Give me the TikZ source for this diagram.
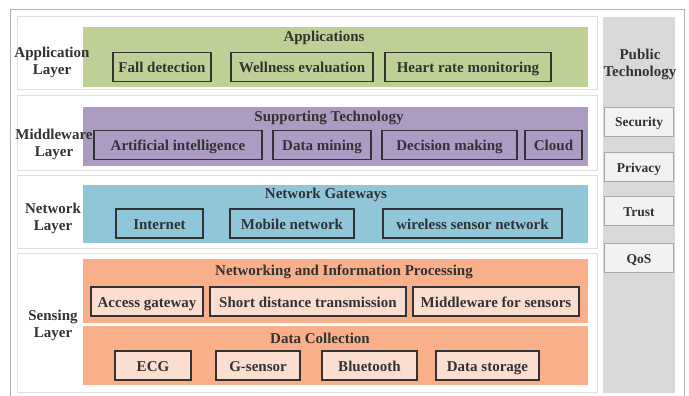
\documentclass[tikz,border=0pt]{standalone}
\usepackage{fontspec}
\setmainfont{Liberation Serif}
\usetikzlibrary{positioning}
\definecolor{appcolor}{RGB}{190,208,150}
\definecolor{midcolor}{RGB}{172,155,195}
\definecolor{netcolor}{RGB}{145,198,216}
\definecolor{sencolor}{RGB}{249,175,138}
\definecolor{senlight}{RGB}{252,222,208}
\definecolor{pubcolor}{RGB}{217,217,217}
\definecolor{pubfill}{RGB}{242,242,242}
\definecolor{txtcolor}{RGB}{50,50,50}

\begin{document}
\begin{tikzpicture}[x=1pt, y=-1pt,
    every node/.style={font=\fontsize{15}{17}\selectfont\bfseries, text=txtcolor},
    panel/.style={draw=gray!25, line width=1pt, fill=white, minimum width=580pt, inner sep=0pt},
    band/.style={minimum width=505pt, inner sep=0pt},
    item/.style={draw=black!80, line width=1.2pt, minimum height=29pt, inner sep=0pt,
        text height=11pt, text depth=0pt},
    pubitem/.style={draw=gray!70, fill=pubfill, line width=1pt, minimum width=69pt, minimum height=29pt,
        inner sep=0pt, text height=10pt, text depth=0pt, font=\fontsize{13.5}{15}\selectfont\bfseries},
    lbl/.style={align=center},
]
    \useasboundingbox (0,0) rectangle (689,396);
    % outer frame
    \draw[gray!60, line width=1pt] (10,400) -- (10,10) -- (684,10) -- (684,400);

    % layer panels
    \node[panel, minimum height=73pt] (appPanel) at (307,53.5) {};
    \node[panel, minimum height=74pt] (midPanel) at (307,133) {};
    \node[panel, minimum height=73pt] (netPanel) at (307,211.5) {};
    \node[panel, minimum height=139pt] (senPanel) at (307,322.5) {};

    % public technology column
    \node[fill=pubcolor, minimum width=72pt, minimum height=376pt, inner sep=0pt] (pubCol) at (639,205) {};
    \node[lbl] (pubTitle) at (640,64) {Public\\Technology};
    \node[pubitem] (security) at (639,122) {Security};
    \node[pubitem, below=15pt of security] (privacy) {Privacy};
    \node[pubitem, below=14pt of privacy] (trust) {Trust};
    \node[pubitem, below=17pt of trust] (qos) {QoS};

    % application layer
    \node[band, fill=appcolor, minimum height=60pt] (appBand) at (335.5,57) {};
    \node (appTitle) at (324,38) {Applications};
    \node[item, minimum width=98pt] (fall) at (162,67) {Fall detection};
    \node[item, minimum width=142pt] (wellness) at (302,67) {Wellness evaluation};
    \node[item, minimum width=166pt] (heart) at (468,67) {Heart rate monitoring};
    \node[lbl] (appLbl) at (52,62) {Application\\Layer};

    % middleware layer
    \node[band, fill=midcolor, minimum height=59pt] (midBand) at (335.5,136.5) {};
    \node (midTitle) at (329,118) {Supporting Technology};
    \node[item, minimum width=168pt] (ai) at (178,145) {Artificial intelligence};
    \node[item, minimum width=98pt] (mining) at (322,145) {Data mining};
    \node[item, minimum width=135pt] (decision) at (449.5,145) {Decision making};
    \node[item, minimum width=57pt] (cloud) at (553.5,145) {Cloud};
    \node[lbl] (midLbl) at (54,144) {Middleware\\Layer};

    % network layer
    \node[band, fill=netcolor, minimum height=58pt] (netBand) at (335.5,214) {};
    \node (netTitle) at (326,195) {Network Gateways};
    \node[item, minimum width=87pt] (internet) at (159.5,223.5) {Internet};
    \node[item, minimum width=124pt] (mobile) at (292,223.5) {Mobile network};
    \node[item, minimum width=179pt] (wsn) at (472.5,223.5) {wireless sensor network};
    \node[lbl] (netLbl) at (53,218) {Network\\Layer};

    % sensing layer
    \node[band, fill=sencolor, minimum height=64pt] (procBand) at (335.5,291) {};
    \node (procTitle) at (344,272) {Networking and Information Processing};
    \node[item, fill=senlight, minimum width=112pt] (access) at (147,301.5) {Access gateway};
    \node[item, fill=senlight, minimum width=196pt] (short) at (308,301.5) {Short distance transmission};
    \node[item, fill=senlight, minimum width=166pt] (mws) at (496,301.5) {Middleware for sensors};
    \node[band, fill=sencolor, minimum height=59pt] (collBand) at (335.5,355.5) {};
    \node (collTitle) at (320,338) {Data Collection};
    \node[item, fill=senlight, minimum width=76pt] (ecg) at (153,365.5) {ECG};
    \node[item, fill=senlight, minimum width=84pt] (gsensor) at (258,365.5) {G-sensor};
    \node[item, fill=senlight, minimum width=95pt] (bluetooth) at (369.5,365.5) {Bluetooth};
    \node[item, fill=senlight, minimum width=103pt] (storage) at (487.5,365.5) {Data storage};
    \node[lbl] (senLbl) at (53,325) {Sensing\\Layer};
\end{tikzpicture}
\end{document}
